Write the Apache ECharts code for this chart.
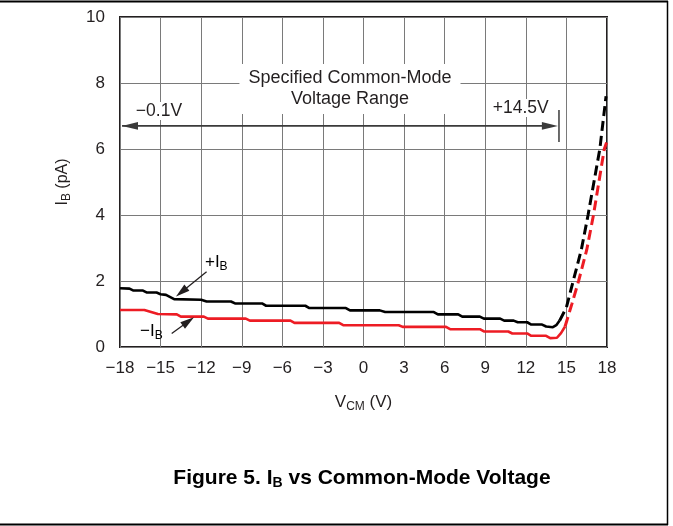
<!DOCTYPE html>
<html><head><meta charset="utf-8">
<script src="https://cdn.jsdelivr.net/npm/echarts@6/dist/echarts.min.js"></script>
<style>html,body{margin:0;padding:0;background:#fff}#c{width:673px;height:526px}</style>
</head><body><div id="c"></div>
<script>
// ---- data (V_CM in volts, I_B in pA) ----
const xRange = [-18, 18];
const xStep = 3;
const yRange = [0, 10];
const yStep = 2;

const plusIbSolid = [
  [-18,1.78],[-17.3,1.77],[-17.0,1.71],[-16.3,1.71],[-16.0,1.65],[-15.3,1.65],
  [-15.0,1.60],[-14.6,1.58],[-14.0,1.45],[-12.0,1.43],[-11.6,1.38],[-9.8,1.38],
  [-9.5,1.32],[-7.5,1.32],[-7.2,1.25],[-4.3,1.25],[-4.0,1.18],[-1.3,1.18],
  [-1.0,1.11],[1.2,1.11],[1.6,1.06],[5.2,1.06],[5.5,0.99],[7.0,0.99],
  [7.3,0.92],[8.6,0.92],[8.9,0.86],[10.1,0.86],[10.4,0.80],[11.1,0.80],
  [11.4,0.75],[12.1,0.75],[12.4,0.68],[13.2,0.68],[13.5,0.62],[14.0,0.60],
  [14.25,0.66],[14.5,0.80]
];
const plusIbDashed = [
  [14.5,0.80],[15.0,1.2],[15.5,2.0],[16.1,2.94],[16.6,4.0],[17.47,6.0],[17.93,7.6]
];
const minusIbSolid = [
  [-18,1.12],[-16.2,1.12],[-15.2,1.00],[-13.8,0.99],[-13.5,0.92],[-11.8,0.92],
  [-11.5,0.86],[-8.7,0.86],[-8.4,0.80],[-5.4,0.80],[-5.1,0.73],[-1.8,0.73],
  [-1.5,0.66],[2.6,0.66],[2.9,0.61],[6.1,0.61],[6.4,0.54],[8.6,0.54],
  [8.9,0.47],[10.7,0.47],[11.0,0.41],[12.1,0.41],[12.4,0.34],[13.5,0.34],
  [13.8,0.27],[14.3,0.28],[14.6,0.42],[14.9,0.62]
];
const minusIbDashed = [
  [14.9,0.62],[15.4,1.3],[15.9,2.0],[16.5,2.94],[17.0,4.0],[17.4,5.0],[17.8,6.0],[17.97,6.2]
];

// annotation anchors (data coordinates)
const rangeArrowY = 6.7;
const rangeLeftX = -17.85;
const rangeRightX = 14.37;
const rangeBar = [[14.45, 6.21], [14.45, 7.18]];
const plusArrow = [[-11.6, 2.28], [-13.86, 1.53]];   // [tail, tip]
const minusArrow = [[-14.18, 0.41], [-12.53, 0.90]]; // [tail, tip]
const plusLabelPos = [-11.72, 2.58];
const minusLabelPos = [-16.52, 0.49];
const rangeTextPos = [-1.0, 7.82];
const lowLimitText = '\u22120.1V';
const lowLimitPos = [-15.12, 7.15];
const highLimitText = '+14.5V';
const highLimitPos = [11.62, 7.24];

const FONT = '"Liberation Sans", Arial, Helvetica, sans-serif';
const BLACK = '#000000';
const RED = '#ed1c24';
const INK = '#231f20';
const fmtMinus = v => String(v).replace('-', '\u2212');

const chart = echarts.init(document.getElementById('c'), null, {renderer: 'canvas'});

const subRich = (size) => ({
  n: {fontSize: size, fontFamily: FONT, color: INK},
  s: {fontSize: Math.round(size * 0.72), fontFamily: FONT, color: INK, padding: [Math.round(size*0.55),0,0,0]}
});

const option = {
  animation: false,
  backgroundColor: '#fff',
  grid: {left: 120, right: 66, top: 17, bottom: 179, show: true, borderColor: INK, borderWidth: 2, backgroundColor: 'transparent'},
  xAxis: {
    type: 'value', min: xRange[0], max: xRange[1], interval: xStep,
    axisLine: {show: false}, axisTick: {show: false},
    splitLine: {show: true, lineStyle: {color: '#7a7a7a', width: 1}},
    axisLabel: {formatter: fmtMinus, fontSize: 17, fontFamily: FONT, color: INK, margin: 13},
    name: '{n|V}{s|CM}{n| (V)}', nameLocation: 'middle', nameGap: 45,
    nameTextStyle: {rich: subRich(17)}
  },
  yAxis: {
    type: 'value', min: yRange[0], max: yRange[1], interval: yStep,
    axisLine: {show: false}, axisTick: {show: false},
    splitLine: {show: true, lineStyle: {color: '#7a7a7a', width: 1}},
    axisLabel: {fontSize: 17, fontFamily: FONT, color: INK, margin: 15},
    name: '{n|I}{s|B}{n| (pA)}', nameLocation: 'middle', nameGap: 47,
    nameTextStyle: {rich: subRich(16)}
  },
  series: [
    {name: '+IB', type: 'line', data: plusIbSolid, showSymbol: false, symbol: 'none',
     lineStyle: {color: BLACK, width: 2.6}, z: 5},
    {name: '+IB ext', type: 'line', data: plusIbDashed, showSymbol: false, symbol: 'none',
     lineStyle: {color: BLACK, width: 3, type: [10, 5]}, z: 5},
    {name: '-IB', type: 'line', data: minusIbSolid, showSymbol: false, symbol: 'none',
     lineStyle: {color: RED, width: 2.6}, z: 4},
    {name: '-IB ext', type: 'line', data: minusIbDashed, showSymbol: false, symbol: 'none',
     lineStyle: {color: RED, width: 3, type: [10, 5]}, z: 4}
  ]
};
chart.setOption(option);

const px = p => chart.convertToPixel({gridIndex: 0}, p);

// arrow helper: line from tail to tip, filled triangle head with tip exactly at 'tip'
function arrow(tailPx, tipPx, len, halfW, color, lw, headAtTail) {
  const out = [];
  const dx = tipPx[0] - tailPx[0], dy = tipPx[1] - tailPx[1];
  const d = Math.hypot(dx, dy), ux = dx / d, uy = dy / d;
  const head = (tip, sx, sy) => {
    const bx = tip[0] - sx * len, by = tip[1] - sy * len;
    return {type: 'polygon', z: 11, shape: {points: [[tip[0], tip[1]], [bx - sy * halfW, by + sx * halfW], [bx + sy * halfW, by - sx * halfW]]},
      style: {fill: color}};
  };
  out.push({type: 'line', z: 11, shape: {x1: tailPx[0], y1: tailPx[1], x2: tipPx[0] - ux * len * 0.6, y2: tipPx[1] - uy * len * 0.6},
    style: {stroke: color, lineWidth: lw}});
  out.push(head(tipPx, ux, uy));
  if (headAtTail) out.push(head(tailPx, -ux, -uy));
  return out;
}

const rt = px(rangeTextPos), lt = px(lowLimitPos), ht = px(highLimitPos);
const pl = px(plusLabelPos), ml = px(minusLabelPos);
const rL = px([rangeLeftX, rangeArrowY]), rR = px([rangeRightX, rangeArrowY]);
const b0 = px(rangeBar[0]), b1 = px(rangeBar[1]);

const graphics = [
  {type: 'text', x: rt[0], y: rt[1], z: 10, style: {
    text: 'Specified Common-Mode\nVoltage Range', align: 'center', verticalAlign: 'middle',
    font: '18px ' + FONT, fill: INK, lineHeight: 21,
    backgroundColor: '#fff', padding: [4, 9]}},
  {type: 'text', x: lt[0], y: lt[1], z: 10, style: {
    text: lowLimitText, align: 'center', verticalAlign: 'middle',
    font: '17.5px ' + FONT, fill: INK, backgroundColor: '#fff'}},
  {type: 'text', x: ht[0], y: ht[1], z: 10, style: {
    text: highLimitText, align: 'center', verticalAlign: 'middle',
    font: '17.5px ' + FONT, fill: INK, backgroundColor: '#fff'}},
  {type: 'text', x: pl[0], y: pl[1], z: 10, style: {
    text: '{n|+I}{s|B}', align: 'left', verticalAlign: 'middle', rich: subRich(17)}},
  {type: 'text', x: ml[0], y: ml[1], z: 10, style: {
    text: '{n|\u2212I}{s|B}', align: 'left', verticalAlign: 'middle', rich: subRich(17)}},
  {type: 'line', z: 11, shape: {x1: b0[0], y1: b0[1], x2: b1[0], y2: b1[1]}, style: {stroke: '#3a3a3a', lineWidth: 1.5}},
  {type: 'text', x: 362, y: 478, z: 10, style: {
    text: '{n|Figure 5. I}{s|B}{n| vs Common-Mode Voltage}', align: 'center', verticalAlign: 'middle',
    rich: {
      n: {fontSize: 21, fontWeight: 'bold', fontFamily: FONT, color: '#000'},
      s: {fontSize: 14, fontWeight: 'bold', fontFamily: FONT, color: '#000', padding: [11,0,0,0]}
    }}},
  {type: 'line', z: 10, shape: {x1: 0, y1: 1.5, x2: 668, y2: 1.5}, style: {stroke: '#000', lineWidth: 2}},
  {type: 'line', z: 10, shape: {x1: 667.5, y1: 1, x2: 667.5, y2: 525}, style: {stroke: '#000', lineWidth: 1.5}},
  {type: 'line', z: 10, shape: {x1: 0, y1: 524.5, x2: 668, y2: 524.5}, style: {stroke: '#000', lineWidth: 2}}
]
.concat(arrow(rL, rR, 16, 3.8, '#3a3a3a', 1.6, true))
.concat(arrow(px(plusArrow[0]), px(plusArrow[1]), 14, 4, INK, 1.3, false))
.concat(arrow(px(minusArrow[0]), px(minusArrow[1]), 14, 4, INK, 1.3, false));

chart.setOption({graphic: graphics});
</script>
</body></html>
